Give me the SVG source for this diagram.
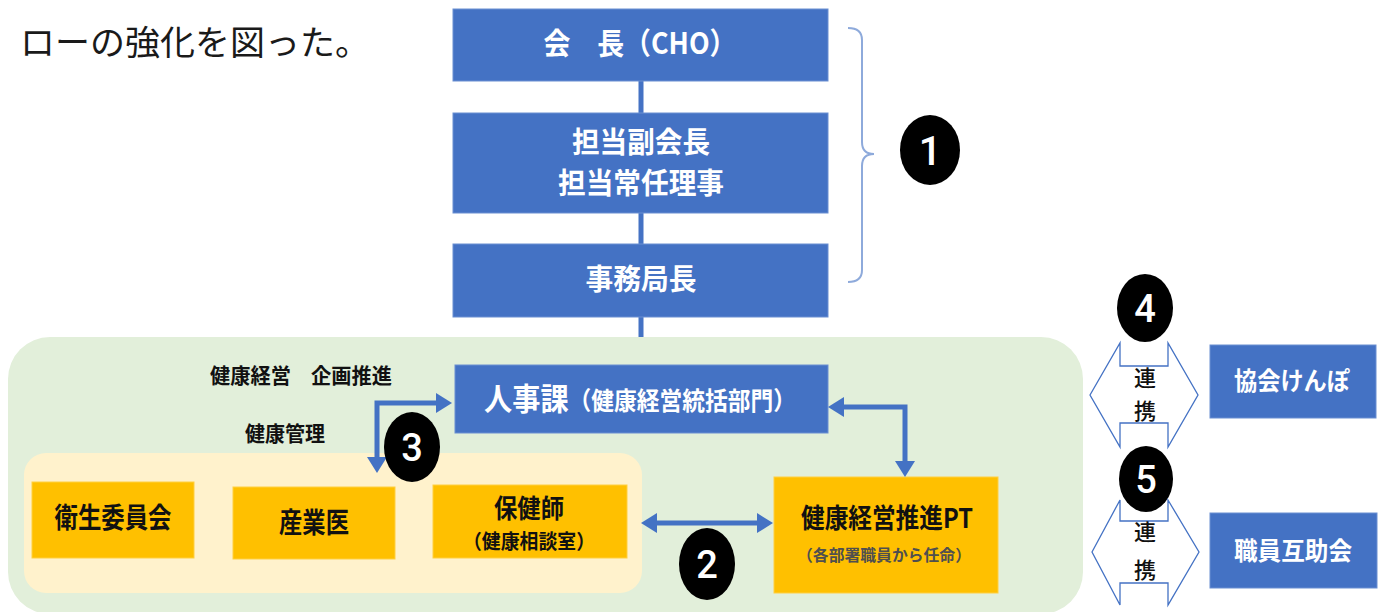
<svg xmlns="http://www.w3.org/2000/svg" width="1385" height="612" viewBox="0 0 1385 612">
<style>
.blue{fill:#4472c4;stroke:#6a8fd2;stroke-width:1}
.org{fill:#ffc000;stroke:#ffcf40;stroke-width:1}
.wt{fill:#ffffff;font-family:"Noto Sans CJK JP","Noto Sans",sans-serif;font-weight:700;text-anchor:middle}
.bk{fill:#111111;font-family:"Noto Sans CJK JP","Noto Sans",sans-serif;font-weight:700;text-anchor:middle}
.num{fill:#ffffff;font-family:Roboto,"Liberation Sans",sans-serif;font-weight:500;text-anchor:middle}
.conn{fill:none;stroke:#4472c4;stroke-width:5}
.lr{fill:#ffffff;stroke:#4472c4;stroke-width:1.3}
.rn{fill:#111111;font-family:"Noto Sans CJK JP",sans-serif;font-weight:500;text-anchor:middle;font-size:22px}
</style>
<defs>
<marker id="ah" viewBox="0 0 16 20" refX="4" refY="10" markerWidth="16" markerHeight="20" markerUnits="userSpaceOnUse" orient="auto-start-reverse">
<path d="M0,0 L16,10 L0,20 z" fill="#4472c4"/>
</marker>
</defs>
<rect width="1385" height="612" fill="#ffffff"/>
<text x="20" y="55" font-family="'Noto Sans CJK JP',sans-serif" font-size="34" fill="#1a1a1a" textLength="350" lengthAdjust="spacingAndGlyphs">ローの強化を図った。</text>

<g id="connectors-top">
<line x1="641" y1="80" x2="641" y2="338" stroke="#4472c4" stroke-width="5"/>
</g>

<g id="bg-green"><rect x="8" y="337" width="1075" height="277" rx="42" fill="#e2efda"/></g>
<g id="bg-cream"><rect x="24" y="453" width="618" height="140" rx="22" fill="#fff2cc"/></g>

<g id="n-cho"><rect class="blue" x="453" y="9" width="375" height="72"/>
<text class="wt" x="640" y="54" font-size="30" textLength="193" lengthAdjust="spacingAndGlyphs">会　長（CHO）</text></g>
<g id="n-vice"><rect class="blue" x="453" y="113" width="375" height="100"/>
<text class="wt" x="641" y="153" font-size="29" textLength="138" lengthAdjust="spacingAndGlyphs">担当副会長</text>
<text class="wt" x="641" y="194" font-size="29" textLength="166" lengthAdjust="spacingAndGlyphs">担当常任理事</text></g>
<g id="n-jimu"><rect class="blue" x="453" y="244" width="375" height="73"/>
<text class="wt" x="641" y="290" font-size="29" textLength="111" lengthAdjust="spacingAndGlyphs">事務局長</text></g>

<g id="bracket"><path d="M848,28 Q862,28 862,40 L862,142 Q862,154 874,154 Q862,154 862,166 L862,270 Q862,282 848,282" fill="none" stroke="#8eaadb" stroke-width="2"/></g>
<g id="badge1"><ellipse cx="930" cy="150" rx="30" ry="35" fill="#000"/><text class="num" x="930" y="165" font-size="40">1</text></g>

<text class="bk" x="301" y="383" font-size="21" textLength="182" lengthAdjust="spacingAndGlyphs">健康経営　企画推進</text>
<text class="bk" x="285" y="441" font-size="21" textLength="80" lengthAdjust="spacingAndGlyphs">健康管理</text>

<g id="n-jinji"><rect class="blue" x="455" y="365" width="373" height="68"/>
<text class="wt" x="640" y="410" textLength="312" lengthAdjust="spacingAndGlyphs"><tspan font-size="31">人事課</tspan><tspan font-size="25">（健康経営統括部門）</tspan></text></g>

<g id="n-eisei"><rect class="org" x="32" y="482" width="162" height="76"/>
<text class="bk" x="113" y="528" font-size="28" textLength="117" lengthAdjust="spacingAndGlyphs">衛生委員会</text></g>
<g id="n-sangyoi"><rect class="org" x="233" y="487" width="162" height="72"/>
<text class="bk" x="314" y="533" font-size="28" textLength="70" lengthAdjust="spacingAndGlyphs">産業医</text></g>
<g id="n-hokenshi"><rect class="org" x="433" y="485" width="194" height="73"/>
<text class="bk" x="529" y="518" font-size="26" textLength="70" lengthAdjust="spacingAndGlyphs">保健師</text>
<text class="bk" x="529" y="549" font-size="20" font-weight="500" textLength="132" lengthAdjust="spacingAndGlyphs">（健康相談室）</text></g>
<g id="n-pt"><rect class="org" x="774" y="477" width="224" height="116"/>
<text class="bk" x="887" y="528" font-size="27" textLength="172" lengthAdjust="spacingAndGlyphs">健康経営推進PT</text>
<text class="bk" x="884" y="561" font-size="16" font-weight="500" style="fill:#4f4f4f" textLength="174" lengthAdjust="spacingAndGlyphs">（各部署職員から任命）</text></g>

<g id="connectors">
<path class="conn" d="M377,461 L377,403 L440,403" marker-start="url(#ah)" marker-end="url(#ah)"/>
<path class="conn" d="M840,407 L905,407 L905,465" marker-start="url(#ah)" marker-end="url(#ah)"/>
<path class="conn" d="M653,523 L761,523" marker-start="url(#ah)" marker-end="url(#ah)"/>
</g>

<g id="badge3"><ellipse cx="412" cy="447" rx="28" ry="35" fill="#000"/><text class="num" x="412" y="461" font-size="38">3</text></g>
<g id="badge2"><ellipse cx="707" cy="564" rx="28" ry="36" fill="#000"/><text class="num" x="707" y="578" font-size="38">2</text></g>

<g id="badge4"><ellipse cx="1145" cy="308" rx="28" ry="34" fill="#000"/><text class="num" x="1145" y="322" font-size="38">4</text></g>
<g id="badge5"><ellipse cx="1146" cy="479" rx="27" ry="33" fill="#000"/><text class="num" x="1146" y="493" font-size="38">5</text></g>

<g id="renkei1"><path class="lr" d="M1090,395 L1120,343 L1120,366 L1168,366 L1168,343 L1198,395 L1168,447 L1168,423 L1120,423 L1120,447 Z"/>
<text class="rn" x="1145" y="386">連</text><text class="rn" x="1145" y="419">携</text></g>
<g id="renkei2"><path class="lr" d="M1092,552 L1120,500 L1120,521 L1168,521 L1168,500 L1199,552 L1168,605 L1168,583 L1120,583 L1120,605 Z"/>
<text class="rn" x="1145" y="540">連</text><text class="rn" x="1145" y="578">携</text></g>

<g id="n-kyokai"><rect class="blue" x="1210" y="345" width="166" height="73"/>
<text class="wt" x="1292" y="390" font-size="25" textLength="116" lengthAdjust="spacingAndGlyphs">協会けんぽ</text></g>
<g id="n-gojo"><rect class="blue" x="1210" y="513" width="167" height="75"/>
<text class="wt" x="1293" y="560" font-size="25" textLength="118" lengthAdjust="spacingAndGlyphs">職員互助会</text></g>
</svg>
